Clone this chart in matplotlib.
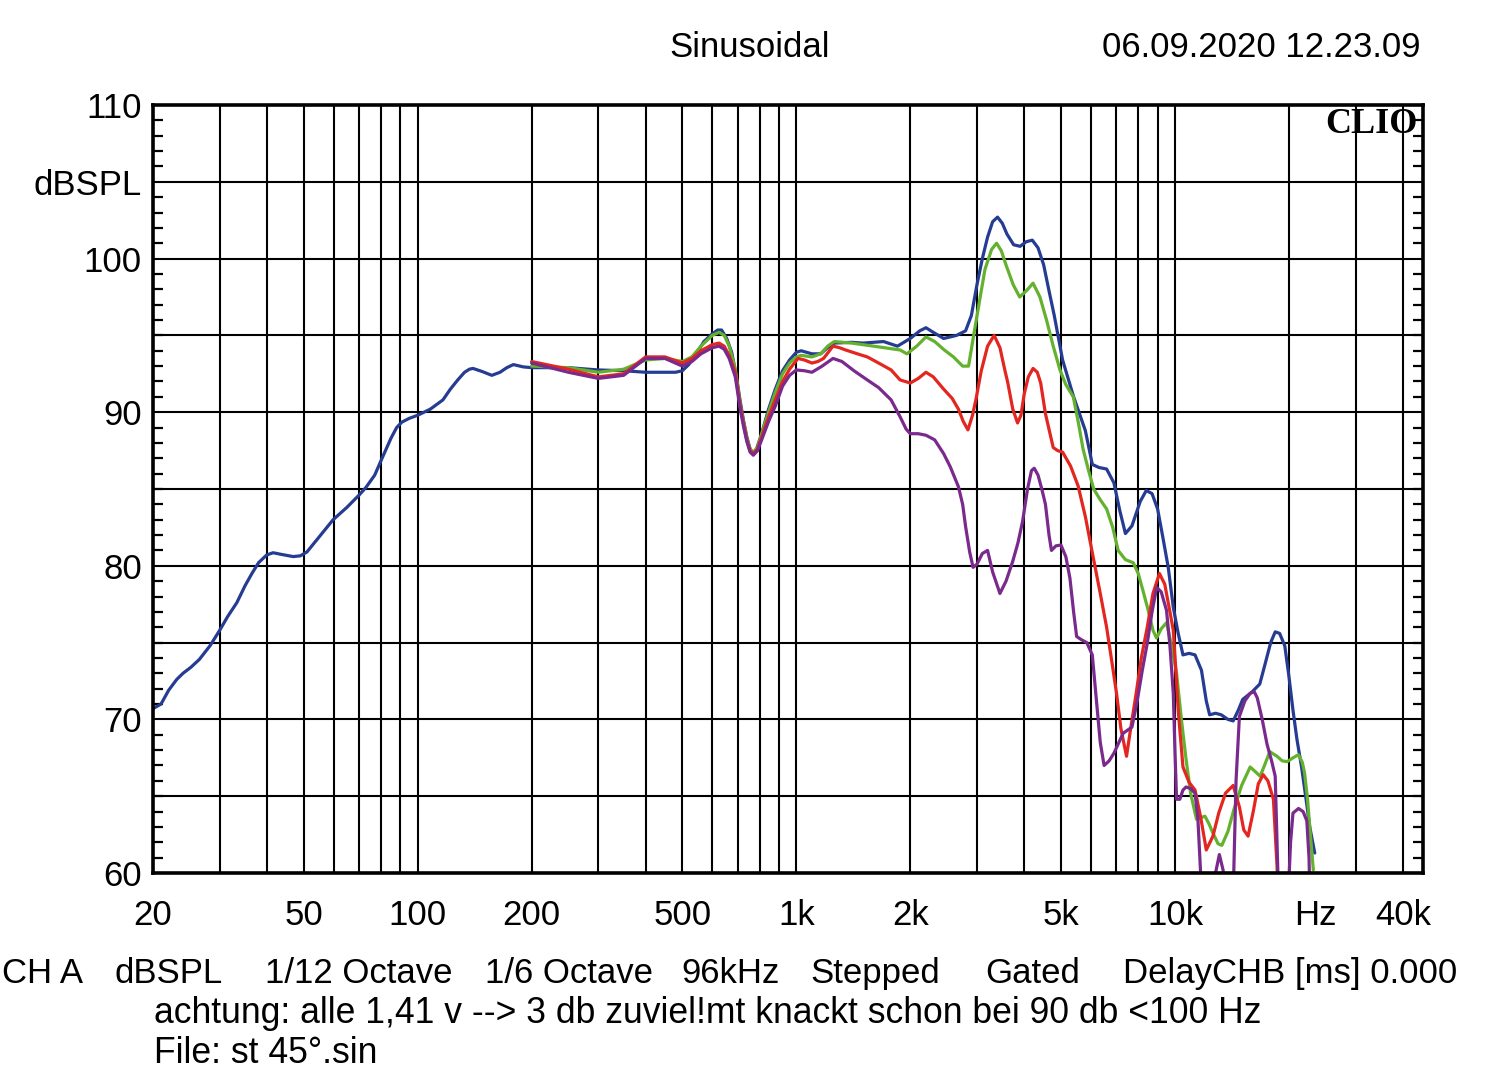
import matplotlib
matplotlib.use("Agg")
import matplotlib.pyplot as plt
from matplotlib.ticker import MultipleLocator, NullLocator, FixedLocator

# ---------------- data ----------------
blue_f = [20, 21, 22, 23.1, 24, 25.2, 26.5, 28.3, 30, 31.5, 33.3, 35, 36.5, 38, 39.9, 41.5, 43.5, 46.9, 49, 51,
          55, 59.8, 65, 70, 73, 77, 80.2, 85, 88, 90.8, 95, 100, 108, 116.6, 122, 127.6, 133, 137, 140, 148,
          157, 165, 172, 179, 190, 200,
          250, 300, 350, 400, 450, 480, 500, 520, 545, 570, 600, 620, 635, 655, 675, 695, 710, 725, 740,
          755, 770, 785, 810, 845, 880, 920, 960, 1000, 1030, 1065, 1100, 1160, 1210, 1260, 1400, 1500,
          1700, 1850, 2000, 2120, 2200, 2300, 2450, 2650, 2800, 2900, 3000, 3100, 3200, 3300, 3400, 3500,
          3600, 3750, 3900, 4050, 4200, 4350, 4500, 4650, 4800, 5050, 5400, 5800, 6050, 6300, 6600, 6900,
          7150, 7400, 7700, 8100, 8400, 8700, 9000, 9300, 9600, 9900, 10200, 10500, 10900, 11300, 11750,
          12100, 12350, 12800, 13250, 13800, 14250, 14700, 15100, 16000, 16750, 17300, 17900, 18400,
          18900, 19500, 20000, 20500, 21000, 21600, 22200, 22700, 23400]
blue_db = [70.7, 71.0, 71.9, 72.6, 73.0, 73.4, 73.9, 74.8, 75.8, 76.7, 77.6, 78.7, 79.5, 80.2, 80.7, 80.85, 80.75, 80.6, 80.65, 80.9,
           81.9, 83.0, 83.8, 84.6, 85.1, 85.9, 86.9, 88.3, 89.0, 89.35, 89.6, 89.8, 90.2, 90.8, 91.5, 92.1, 92.6, 92.8, 92.85, 92.65,
           92.4, 92.6, 92.9, 93.1, 92.95, 92.9,
           92.9, 92.75, 92.7, 92.6, 92.6, 92.6, 92.7, 93.1, 93.8, 94.6, 95.1, 95.35, 95.35, 94.8, 93.9, 92.3, 90.8, 89.5, 88.4,
           87.6, 87.3, 87.6, 88.6, 90.2, 91.5, 92.7, 93.4, 93.9, 94.0, 93.9, 93.8, 93.8, 94.2, 94.5, 94.55, 94.5,
           94.6, 94.3, 94.8, 95.3, 95.5, 95.2, 94.8, 95.0, 95.3, 96.3, 98.3, 100.0, 101.4, 102.4, 102.7, 102.3,
           101.6, 100.9, 100.8, 101.1, 101.2, 100.7, 99.6, 97.9, 96.3, 93.4, 91.0, 88.8, 86.6, 86.4, 86.3, 85.4,
           83.6, 82.1, 82.6, 84.2, 84.9, 84.7, 83.7, 81.8, 79.9, 77.3, 75.6, 74.2, 74.3, 74.2, 73.2,
           71.2, 70.3, 70.4, 70.3, 70.0, 69.9, 70.6, 71.3, 71.8, 72.3, 73.6, 75.0, 75.7,
           75.6, 74.8, 72.8, 70.6, 68.7, 66.9, 64.8, 63.0, 61.3]

green_f = [200, 250, 300, 350, 400, 450, 500, 530, 560, 600, 625, 645, 665, 690, 710, 725, 740, 755, 770, 790,
           810, 845, 880, 920, 960, 1000, 1030, 1100, 1160, 1210, 1260, 1400, 1600, 1880, 1960, 2080, 2200,
           2320, 2460, 2600, 2750, 2850, 2950, 3050, 3150, 3280, 3380, 3480, 3590, 3740, 3890, 4050, 4220,
           4400, 4580, 4770, 4970, 5150, 5390, 5560, 5720, 5900, 6100, 6350, 6600, 6850, 7080, 7400, 7760,
           8000, 8250, 8500, 8750, 8940, 9200, 9500, 9800, 10100, 10400, 10700, 11000, 11400, 11700, 12000,
           12300, 12600, 13000, 13300, 13800, 14300, 15000, 15800, 16300, 16800, 17300, 17800, 18600, 19200,
           19800, 20500, 21200, 21700, 22000, 22400, 22700, 23200]
green_db = [93.0, 92.9, 92.6, 92.8, 93.4, 93.5, 93.3, 93.6, 94.3, 95.0, 95.2, 95.0, 94.3, 92.8, 90.6, 89.4, 88.3, 87.6, 87.4, 87.7,
            88.6, 90.0, 91.3, 92.5, 93.2, 93.6, 93.7, 93.6, 93.8, 94.3, 94.6, 94.5, 94.3, 94.05, 93.8, 94.3, 94.9,
            94.6, 94.05, 93.6, 93.0, 93.0, 95.2, 97.3, 99.3, 100.6, 101.0, 100.5, 99.5, 98.3, 97.5, 97.9, 98.4,
            97.5, 96.0, 94.3, 92.75, 91.8, 91.0, 89.3, 87.6, 86.3, 85.0, 84.3, 83.7, 82.5, 81.0, 80.4, 80.2,
            79.5, 78.3, 77.1, 75.8, 75.3, 75.9, 76.3, 74.8, 73.0, 70.0, 67.4, 65.2, 63.5, 63.6, 63.7,
            63.2, 62.6, 61.9, 61.8, 62.7, 64.1, 65.7, 66.9, 66.6, 66.3, 67.1, 67.9, 67.6, 67.3,
            67.25, 67.5, 67.7, 67.2, 66.5, 64.8, 63.0, 60.2]

red_f = [200, 250, 300, 350, 400, 450, 500, 530, 560, 600, 625, 645, 665, 690, 710, 725, 740, 755, 770, 790,
         810, 845, 880, 920, 960, 1010, 1050, 1100, 1140, 1180, 1250, 1300, 1350, 1450, 1540, 1650, 1780,
         1880, 2000, 2100, 2200, 2300, 2450, 2580, 2680, 2760, 2840, 2920, 2980, 3080, 3200, 3330, 3450,
         3550, 3620, 3730, 3840, 3920, 4000, 4100, 4220, 4330, 4420, 4550, 4770, 4900, 5050, 5300, 5550,
         5800, 6100, 6350, 6600, 6800, 7010, 7200, 7450, 7650, 7900, 8150, 8450, 8750, 9100, 9400, 9700,
         9900, 10050, 10200, 10500, 10900, 11300, 11700, 12100, 12600, 13050, 13600, 14250, 14800, 15200,
         15600, 16100, 16600, 17100, 17600, 18200, 18600, 18900]
red_db = [93.3, 92.8, 92.3, 92.5, 93.6, 93.6, 93.2, 93.5, 94.0, 94.4, 94.5, 94.3, 93.7, 92.6, 90.5, 89.3, 88.2, 87.5, 87.3, 87.6,
          88.4, 89.7, 90.8, 92.0, 92.8, 93.5, 93.4, 93.2, 93.3, 93.5, 94.3, 94.2, 94.05, 93.8, 93.6, 93.2, 92.75,
          92.1, 91.9, 92.2, 92.6, 92.3, 91.5, 90.9, 90.2, 89.4, 88.85, 89.8, 90.8, 92.7, 94.3, 95.0, 94.2,
          92.8, 91.9, 90.2, 89.3, 89.8, 91.2, 92.3, 92.85, 92.6, 91.9, 89.9, 87.7, 87.5, 87.4, 86.5, 85.2,
          83.2, 80.4, 78.2, 76.0, 73.9, 71.7, 69.4, 67.6, 69.5, 71.7, 74.0, 76.0, 78.2, 79.5, 78.8, 77.0,
          75.8, 73.3, 70.6, 66.9, 65.9, 65.4, 63.6, 61.5, 62.4, 63.9, 65.2, 65.7, 64.3, 62.8,
          62.4, 64.0, 65.8, 66.4, 66.0, 64.8, 60.5, 56.0]

purple_f = [200, 250, 300, 350, 400, 450, 500, 530, 560, 600, 625, 645, 665, 690, 710, 725, 740, 755, 770, 790,
            810, 845, 880, 920, 960, 1000, 1050, 1100, 1170, 1250, 1320, 1420, 1540, 1650, 1780, 1880, 1950,
            2000, 2100, 2200, 2320, 2450, 2550, 2680, 2750, 2800, 2870, 2930, 3000, 3100, 3200, 3300, 3450,
            3580, 3730, 3850, 3960, 4080, 4180, 4250, 4350, 4450, 4550, 4650, 4720, 4850, 5000, 5150, 5280,
            5400, 5500, 5650, 5850, 6050, 6200, 6350, 6500, 6700, 6900, 7300, 7700, 7950, 8200, 8450, 8700,
            8950, 9200, 9500, 9700, 9900, 10000, 10100, 10300, 10500, 10700, 11000, 11300, 11500, 11800,
            12500, 12800, 13100, 13400, 13700, 14200, 14500, 14800, 15300, 15800, 16200, 16500, 17000, 17500,
            18000, 18400, 18700, 18900, 19800, 20200, 20500, 21200, 21800, 22300, 22600, 22800]
purple_db = [93.2, 92.6, 92.2, 92.4, 93.5, 93.5, 93.0, 93.3, 93.8, 94.2, 94.3, 94.1, 93.5, 92.3, 90.3, 89.1, 88.1, 87.4, 87.2, 87.5,
             88.2, 89.4, 90.4, 91.7, 92.4, 92.75, 92.7, 92.6, 93.0, 93.5, 93.3, 92.7, 92.1, 91.6, 90.8, 89.7, 88.9,
             88.6, 88.6, 88.5, 88.2, 87.3, 86.45, 85.15, 84.0, 82.55, 80.9, 79.9, 80.1, 80.8, 81.0, 79.6, 78.2,
             79.0, 80.3, 81.5, 82.9, 85.0, 86.2, 86.35, 85.9, 85.0, 84.0, 82.0, 81.0, 81.3, 81.35, 80.6, 79.2,
             77.0, 75.4, 75.2, 75.0, 74.2, 71.3, 68.5, 67.0, 67.3, 67.8, 69.1, 69.5, 71.2, 73.2, 74.95, 77.0,
             78.6, 78.3, 77.1, 74.8, 71.7, 68.0, 64.8, 64.8, 65.4, 65.6, 65.5, 65.2, 63.5, 58.0,
             57.0, 60.0, 61.2, 60.2, 57.5, 57.0, 66.0, 70.2, 71.2, 71.7, 71.8, 71.4, 70.0, 68.4,
             67.3, 66.3, 60.0, 57.0, 57.0, 62.0, 63.9, 64.2, 64.0, 63.4, 61.0, 57.0]

x_tick_vals = [20, 50, 100, 200, 500, 1000, 2000, 5000, 10000, 23550, 40000]
x_tick_labels = ["20", "50", "100", "200", "500", "1k", "2k", "5k", "10k", "Hz", "40k"]
y_tick_vals = [60, 70, 80, 90, 100, 105, 110]
y_tick_labels = ["60", "70", "80", "90", "100", "dBSPL", "110"]
grid_freqs = [m * d for d in (10, 100, 1000, 10000) for m in range(1, 10) if 20 <= m * d <= 40000]
grid_levels = [65, 70, 75, 80, 85, 90, 95, 100, 105]

# ---------------- figure ----------------
plt.rcParams['font.family'] = ['Liberation Sans', 'DejaVu Sans']
W, H = 1500, 1086
fig = plt.figure(figsize=(W / 100, H / 100), dpi=100)
fig.patch.set_facecolor('white')
ax = fig.add_axes([153 / W, 1 - 873 / H, 1270 / W, 768 / H])
ax.set_xscale('log')
ax.set_xlim(20, 45200)
ax.set_ylim(60, 110)

for f in grid_freqs:
    ax.axvline(f, color='black', lw=1.5, zorder=1)
for v in grid_levels:
    ax.axhline(v, color='black', lw=1.5, zorder=1)

lw = 2.3
kw = dict(lw=lw, solid_joinstyle='round', solid_capstyle='round')
ax.plot(blue_f, blue_db, color='#263c93', zorder=3, **kw)
ax.plot(green_f, green_db, color='#63b12e', zorder=4, **kw)
ax.plot(red_f, red_db, color='#e3261f', zorder=5, **kw)
ax.plot(purple_f, purple_db, color='#7a2a8c', zorder=6, **kw)

for s in ax.spines.values():
    s.set_linewidth(2.6)
    s.set_zorder(10)

fs = 25
ax.xaxis.set_major_locator(FixedLocator(x_tick_vals))
ax.set_xticklabels(x_tick_labels)
ax.xaxis.set_minor_locator(NullLocator())
ax.tick_params(axis='x', which='major', length=0, pad=19, labelsize=fs)

ax.yaxis.set_major_locator(FixedLocator(y_tick_vals))
ax.set_yticklabels(y_tick_labels)
ax.yaxis.set_minor_locator(MultipleLocator(1))
ax.tick_params(axis='y', which='major', length=0, pad=8, labelsize=fs)
ax.tick_params(axis='y', which='minor', direction='in', length=7, width=1.6,
               left=True, right=True, color='black')

# header
fig.text(750 / W, 1 - 57 / H, "Sinusoidal", ha='center', va='baseline', fontsize=fs)
fig.text(1420 / W, 1 - 57 / H, "06.09.2020 12.23.09", ha='right', va='baseline', fontsize=fs)
fig.text(1418 / W, 1 - 133 / H, "CLIO", ha='right', va='baseline', fontsize=26,
         family=['Liberation Serif', 'DejaVu Serif'], fontweight='bold', zorder=20)

# footer
line1 = [("CH A", 2), ("dBSPL", 114), ("1/12 Octave", 265), ("1/6 Octave", 485), ("96kHz", 681),
         ("Stepped", 810), ("Gated", 985), ("DelayCHB [ms] 0.000", 1123)]
for txt, xp in line1:
    fig.text(xp / W, 1 - 983 / H, txt, ha='left', va='baseline', fontsize=fs)
fig.text(154 / W, 1 - 1023 / H, "achtung: alle 1,41 v --> 3 db zuviel!mt knackt schon bei 90 db <100 Hz",
         ha='left', va='baseline', fontsize=25.6)
fig.text(154 / W, 1 - 1063 / H, "File: st 45°.sin", ha='left', va='baseline', fontsize=25.6)

fig.savefig("out.png", dpi=100, facecolor='white')
